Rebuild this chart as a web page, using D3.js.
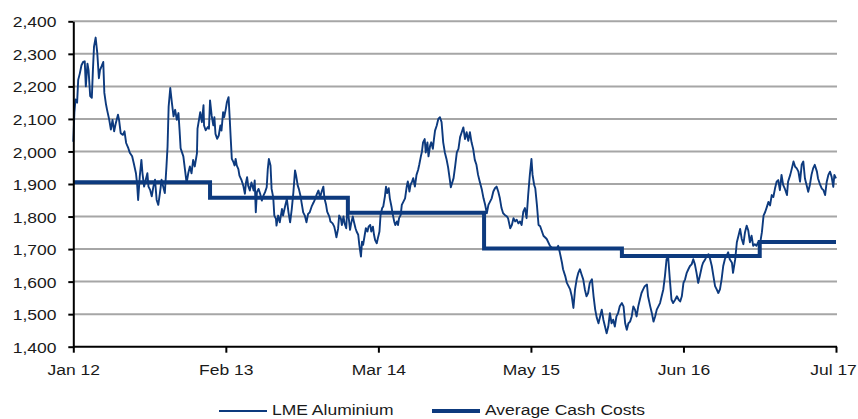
<!DOCTYPE html>
<html><head><meta charset="utf-8">
<script src="https://cdn.jsdelivr.net/npm/d3@7"></script>
<style>
body{margin:0;background:#fff}
svg{display:block}
text{font-family:"Liberation Sans",Arial,sans-serif;fill:#1a1a1a}
</style>
</head><body>
<svg id="c" width="858" height="419"></svg>
<script>
// ---------- data ----------
const yTicks = [1400,1500,1600,1700,1800,1900,2000,2100,2200,2300,2400];
const xTickDays = [0,280,560,840,1120,1400];
const xTickLabels = ["Jan 12","Feb 13","Mar 14","May 15","Jun 16","Jul 17"];
const seriesNames = ["LME Aluminium","Average Cash Costs"];

// trading-day index from Jan 2012
const lmeDay = [
0,2,4,7,9,12,15,18,21,23,
26,28,31,34,36,38,41,44,47,49,
52,55,57,60,62,66,69,72,75,78,
82,84,87,91,94,97,101,104,108,111,
115,117,119,122,125,127,130,133,136,138,
141,144,147,150,153,156,159,162,165,168,
171,173,175,178,181,184,187,190,193,195,
197,200,202,205,208,211,214,217,220,223,
227,228,231,233,236,239,240,243,247,249,
251,254,257,259,261,264,267,270,272,275,
277,280,282,285,287,289,291,294,296,298,
300,303,305,309,312,315,317,319,321,324,
327,331,333,335,337,340,343,346,349,352,
355,357,359,362,364,367,369,372,373,376,
379,383,385,389,392,395,398,401,404,407,
409,412,414,417,419,422,425,428,431,434,
438,441,444,447,450,453,456,459,
461,464,466,470,472,476,479,481,483,486,
488,491,493,496,498,501,503,505,508,510,
513,515,518,520,523,525,528,530,532,535,
537,540,542,545,547,550,552,554,557,559,
562,564,567,569,572,574,576,579,581,584,
586,589,591,594,596,598,601,603,606,609,
612,614,617,619,622,624,627,630,633,635,
638,640,642,645,647,650,652,655,657,660,
662,664,667,670,673,676,679,682,685,688,
691,693,
698,701,704,707,710,713,716,719,722,725,
728,731,734,737,740,743,746,750,753,756,
759,762,765,768,771,774,777,780,783,786,
789,792,796,798,802,805,808,811,814,817,
820,823,826,829,832,835,838,841,843,846,
848,851,854,857,
863,869,875,881,887,890,893,897,899,903,
906,909,912,915,918,921,924,927,930,933,
936,939,942,945,948,952,955,958,961,964,
967,970,973,976,979,982,985,988,991,994,
997,1000,1003,1007,1010,1013,1016,1019,1022,1025,
1028,1031,1034,1037,1040,1043,1046,1049,1053,1055,
1059,1062,1065,1068,1071,1074,1077,1080,1083,1086,
1089,1092,1095,1098,1101,1105,1108,1111,1114,1117,
1120,1123,1126,1129,1132,1135,1138,1141,1144,1147,
1150,1154,1156,1160,1163,1166,1169,1172,1175,1178,
1181,1184,1187,1190,1193,1196,1199,1202,1205,1209,
1211,1215,1218,1221,1224,1227,1230,1233,1236,1239,
1242,1245,1248,1251,1254,1257,1260,1264,1267,1270,
1273,1276,1279,1282,1285,1288,1291,1294,1297,1300,
1303,1306,1310,1312,1316,1319,1322,1325,1328,1331,
1334,1337,1340,1343,1346,1349,1352,1355,1358,1361,
1365,1367,1371,1374,1377,1380,1383,1386,1389,1392,
1395,1397,1400
];
const lmePrice = [
2030,2120,2160,2150,2220,2240,2265,2275,2277,2200,
2270,2250,2170,2165,2250,2322,2350,2303,2225,2250,
2262,2275,2180,2145,2128,2097,2067,2097,2062,2087,
2113,2097,2056,2051,2062,2026,2010,1995,1985,1964,
1933,1903,1851,1923,1974,1933,1892,1913,1933,1892,
1882,1862,1892,1913,1851,1836,1872,1913,1892,1872,
1954,2015,2138,2195,2149,2108,2128,2097,2118,2067,
2010,1995,1985,1944,1903,1933,1954,1933,1974,1954,
1995,2070,2100,2121,2090,2142,2080,2065,2075,2070,
2157,2110,2080,2105,2054,2039,2049,2080,2064,2121,
2106,2131,2152,2167,2106,2039,1977,1967,1957,1977,
1957,1946,1926,1911,1895,1870,1905,1921,1895,1880,
1905,1880,1911,1813,1875,1885,1870,1849,1864,1875,
1890,1946,1977,1957,1885,1859,1803,1793,1772,1803,
1782,1823,1803,1833,1854,1813,1782,1823,1875,1942,
1926,1895,1885,1864,1843,1813,1803,1782,1808,1813,
1833,1843,1854,1869,1880,1859,1877,1892,
1856,1836,1815,1800,1785,1779,1769,1754,1736,1762,
1803,1795,1774,1800,1779,1764,1826,1805,1759,1779,
1800,1785,1764,1754,1744,1713,1677,1723,1713,1744,
1764,1754,1769,1774,1754,1769,1744,1728,1718,1733,
1754,1805,1826,1831,1862,1892,1872,1887,1856,1831,
1810,1785,1774,1785,1774,1795,1805,1836,1846,1856,
1892,1908,1877,1897,1908,1918,1892,1928,1944,1959,
1985,2000,2028,2038,1997,2028,1985,2018,2028,2008,
2038,2064,2079,2100,2105,2090,2028,1997,1977,1951,
1915,1890,
1918,1956,1997,2008,2044,2059,2074,2038,2059,2033,
2059,2028,2008,1974,1959,1928,1908,1882,1856,1836,
1810,1836,1846,1856,1877,1887,1892,1877,1856,1826,
1810,1805,1800,1795,1764,1774,1795,1785,1790,1779,
1785,1774,1815,1826,1795,1867,1928,1977,1928,1897,
1887,1836,1774,1770,
1741,1731,1710,1700,1700,1710,1690,1658,1638,1617,
1596,1586,1576,1555,1519,1576,1607,1627,1638,1622,
1607,1576,1555,1565,1596,1607,1555,1514,1488,1472,
1493,1514,1483,1462,1441,1462,1503,1472,1483,1462,
1493,1503,1524,1534,1524,1472,1452,1472,1477,1493,
1524,1514,1493,1524,1545,1565,1576,1586,1591,1555,
1524,1503,1477,1493,1514,1524,1534,1555,1576,1617,
1669,1674,1607,1545,1534,1545,1555,1545,1539,1555,
1596,1607,1627,1638,1648,1653,1669,1653,1627,1596,
1617,1648,1658,1669,1679,1684,1669,1648,1617,1586,
1576,1565,1576,1607,1648,1669,1679,1690,1669,1658,
1627,1669,1721,1741,1762,1731,1715,1752,1772,1757,
1721,1741,1710,1715,1710,1721,1710,1752,1803,1814,
1829,1845,1834,1866,1860,1886,1907,1912,1881,1928,
1897,1886,1866,1907,1928,1948,1969,1953,1948,1938,
1907,1959,1969,1917,1897,1876,1897,1928,1948,1959,
1938,1917,1897,1886,1881,1866,1907,1928,1938,1922,
1891,1928,1917
];

// Average cash costs: yearly steps (start day of each level)
const costDay = [0,251,504,754,1007,1260,1400];
const costValue = [1905,1858,1812,1702,1679,1722,1722];

// ---------- drawing ----------
const navy = "#0d3a7e";
const svg = d3.select("#c");
const x = d3.scaleLinear().domain([0,1400]).range([73.3,836]);
const y = d3.scaleLinear().domain([1400,2400]).range([346.7,21.3]);
const FS = 15.5, SX = 1.13;

// gridlines
svg.append("g").selectAll("line").data(yTicks.filter(v=>v>1400)).join("line")
  .attr("x1",x(0)).attr("x2",837)
  .attr("y1",d=>y(d)).attr("y2",d=>y(d))
  .attr("stroke","#a6a6a6").attr("stroke-width",2);

// LME line
const lme = lmeDay.map((d,i)=>({d, v:lmePrice[i]}));
svg.append("path").datum(lme)
  .attr("fill","none").attr("stroke",navy).attr("stroke-width",1.9)
  .attr("stroke-linejoin","round")
  .attr("d", d3.line().x(p=>x(p.d)).y(p=>y(p.v)));

// cash cost step line
const cost = costDay.map((d,i)=>({d, v:costValue[i]}));
svg.append("path").datum(cost)
  .attr("fill","none").attr("stroke",navy).attr("stroke-width",4)
  .attr("d", d3.line().curve(d3.curveStepAfter).x(p=>x(p.d)).y(p=>y(p.v)));

// y axis
const ya = svg.append("g").attr("transform",`translate(${x(0)},0)`)
  .call(d3.axisLeft(y).tickValues(yTicks).tickSize(5).tickSizeOuter(0).tickFormat(d3.format(",")));
ya.select(".domain").attr("stroke","#000").attr("stroke-width",2);
ya.selectAll(".tick line").attr("stroke","#000").attr("stroke-width",2);
ya.selectAll(".tick text").attr("font-size",FS).attr("fill","#1a1a1a")
  .attr("font-family",'"Liberation Sans",Arial,sans-serif')
  .attr("x",-(x(0)-56.5)/SX).attr("dy","0.36em").attr("transform",`scale(${SX},1)`);

// x axis
const xa = svg.append("g").attr("transform",`translate(0,${y(1400)})`)
  .call(d3.axisBottom(x).tickValues(xTickDays).tickSize(6).tickSizeOuter(0)
    .tickFormat((d,i)=>xTickLabels[i]));
xa.select(".domain").attr("stroke","#000").attr("stroke-width",2)
  .attr("d",`M${x(0)},0H837`);
xa.selectAll(".tick line").attr("stroke","#000").attr("stroke-width",2);
xa.selectAll(".tick text").attr("font-size",FS).attr("fill","#1a1a1a")
  .attr("font-family",'"Liberation Sans",Arial,sans-serif')
  .attr("y",28.8).attr("dy",0).attr("transform",`scale(${SX},1)`)
  .attr("x",(d,i)=> i===xTickDays.length-1 ? -3/SX : 0);

// legend
const lg = svg.append("g");
lg.append("line").attr("x1",219).attr("x2",267).attr("y1",411).attr("y2",411)
  .attr("stroke",navy).attr("stroke-width",1.9);
lg.append("text").attr("transform",`translate(272,415) scale(${SX},1)`)
  .attr("font-size",FS).text(seriesNames[0]);
lg.append("line").attr("x1",432).attr("x2",480).attr("y1",411).attr("y2",411)
  .attr("stroke",navy).attr("stroke-width",4);
lg.append("text").attr("transform",`translate(485,415) scale(${SX},1)`)
  .attr("font-size",FS).text(seriesNames[1]);
</script>
</body></html>
